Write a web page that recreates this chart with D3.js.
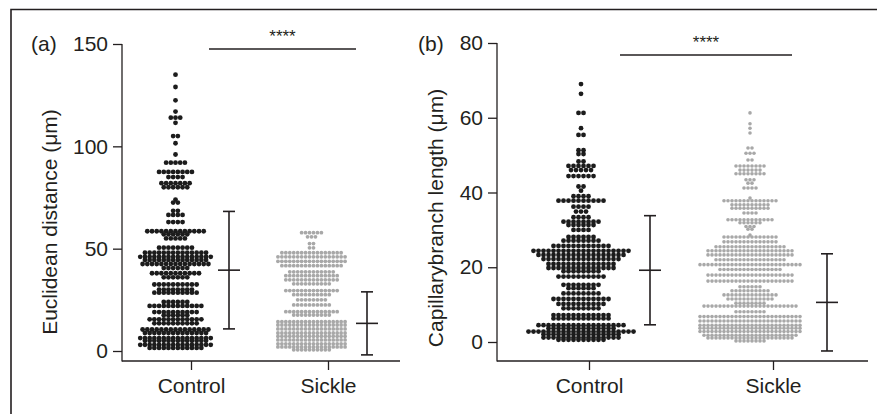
<!DOCTYPE html>
<html>
<head>
<meta charset="utf-8">
<script src="https://cdn.jsdelivr.net/npm/d3@7"></script>
<style>
  body { margin: 0; background: #fff; }
  svg text { font-family: "Liberation Sans", Arial, sans-serif; fill: #231f20; }
</style>
</head>
<body>
<div id="chart"></div>
<script>
// groups
const groups = ["Control", "Sickle"];

// (a) Euclidean distance - each row of the swarm: value and number of dots
const aControlVals   = [135, 129, 122.5, 117, 114, 111.5, 105, 101.5, 96, 92, 87.5, 85, 82, 80, 74, 72.5, 68.5, 66.5, 63, 58.5, 57, 55, 50.5, 48, 46, 44.5, 42.5, 40.5, 38, 36, 32.5, 30, 28.5, 24, 22, 19, 17.5, 15.5, 13.5, 10.5, 8.8, 6.3, 5, 3, 1.5];
const aControlCounts = [1, 1, 1, 1, 3, 1, 2, 1, 1, 5, 8, 4, 7, 6, 1, 2, 2, 4, 4, 13, 6, 5, 8, 14, 16, 14, 15, 6, 11, 6, 10, 8, 10, 6, 12, 10, 6, 12, 10, 15, 14, 16, 14, 16, 12];
const aSickleVals    = [57.8, 55.8, 52.5, 50.4, 48, 46, 43.8, 41.7, 38.7, 36.8, 34.8, 32.8, 29.5, 27.5, 25, 22.5, 19.2, 17.6, 14.3, 12.7, 10.8, 8.8, 7.2, 5.4, 3.5, 2, 0.6];
const aSickleCounts  = [6, 3, 2, 2, 16, 18, 18, 16, 12, 14, 14, 10, 14, 10, 8, 10, 14, 10, 18, 18, 18, 18, 18, 18, 18, 18, 10];
const aMean = [39.5, 13.5];
const aSD   = [28.7, 15.4];

// (b) Capillary branch length
const bControlVals   = [69, 66.4, 61.3, 57.2, 55.4, 51.3, 50.3, 48.3, 47.1, 46, 44.4, 41.6, 40.5, 39, 37.8, 36.2, 34.9, 33.4, 32.2, 31.3, 30, 28.1, 27.1, 25.7, 24.4, 23.3, 22.2, 20.9, 19.8, 18.9, 17.5, 15.3, 14.4, 13, 11.5, 10.2, 9, 7.2, 6.3, 4.5, 3.7, 2.8, 2.1, 1.2, 0.6];
const bControlCounts = [1, 1, 2, 1, 2, 2, 2, 2, 6, 5, 6, 2, 1, 4, 10, 4, 3, 4, 8, 6, 4, 6, 8, 12, 20, 18, 16, 14, 14, 8, 10, 8, 6, 8, 12, 10, 8, 12, 12, 18, 14, 22, 16, 16, 10];
const bSickleVals    = [61.3, 58.4, 57.2, 55.9, 51.9, 50.5, 48.7, 47.1, 46, 45, 43.4, 42.5, 41.2, 38.5, 37.8, 36.7, 35.8, 34.5, 32.7, 31.9, 30.9, 30.2, 28.6, 28.1, 26.8, 25.5, 24.4, 23.3, 22, 20.7, 19.4, 17.9, 16.3, 14.8, 13.7, 12.6, 11.5, 10.4, 9.6, 8.1, 6.8, 5.6, 4.5, 3.7, 2.8, 1.8, 1.1, 0.3];
const bSickleCounts  = [1, 1, 1, 1, 2, 3, 2, 8, 6, 8, 3, 2, 4, 1, 14, 10, 10, 4, 12, 6, 3, 2, 1, 14, 14, 18, 22, 22, 18, 26, 16, 22, 22, 6, 10, 14, 12, 8, 24, 8, 26, 26, 26, 26, 26, 24, 22, 8];
const bMean = [19.2, 10.6];
const bSD   = [14.6, 13.0];

const W = 877, H = 414;
const svg = d3.select("#chart").append("svg")
  .attr("width", W).attr("height", H);

// outer frame (top and left edges)
svg.append("path")
  .attr("d", `M11,${H} L11,9.5 L${W},9.5`)
  .attr("fill", "none").attr("stroke", "#231f20").attr("stroke-width", 1.6);

const ink = "#231f20";

function drawPanel(p) {
  const g = svg.append("g");
  const y = d3.scaleLinear().domain(p.domain).range(p.yRange);
  const x = d3.scalePoint().domain(groups).range(p.tickX);

  // y axis
  const yAxis = g.append("g")
    .attr("transform", `translate(${p.axisX},0)`)
    .call(d3.axisLeft(y).tickValues(p.ticks).tickSize(9).tickPadding(5).tickSizeOuter(0));
  yAxis.select(".domain").remove();
  yAxis.selectAll("line").attr("stroke", ink).attr("stroke-width", 1.3);
  yAxis.selectAll("text").attr("font-size", 21).attr("fill", ink);
  g.append("line")
    .attr("x1", p.axisX).attr("x2", p.axisX)
    .attr("y1", y(p.domain[1])).attr("y2", p.axisY + 0.6)
    .attr("stroke", ink).attr("stroke-width", 1.3);

  // x axis
  const xAxis = g.append("g")
    .attr("transform", `translate(0,${p.axisY})`)
    .call(d3.axisBottom(x).tickSize(9).tickPadding(8).tickSizeOuter(0));
  xAxis.select(".domain").remove();
  xAxis.selectAll("line").attr("stroke", ink).attr("stroke-width", 1.3);
  xAxis.selectAll("text").attr("font-size", 21).attr("fill", ink);
  g.append("line")
    .attr("x1", p.axisX).attr("x2", p.xEnd)
    .attr("y1", p.axisY).attr("y2", p.axisY)
    .attr("stroke", ink).attr("stroke-width", 1.3);

  // swarms
  p.swarms.forEach((s, gi) => {
    const pts = [];
    s.vals.forEach((v, i) => {
      const n = s.counts[i];
      for (let k = 0; k < n; k++) {
        pts.push({ v: v, off: (k - (n - 1) / 2) * s.step });
      }
    });
    g.append("g").selectAll("circle")
      .data(pts)
      .join("circle")
      .attr("cx", d => p.swarmX[gi] + d.off)
      .attr("cy", d => y(d.v))
      .attr("r", s.r)
      .attr("fill", s.color);
  });

  // mean +/- SD bars
  groups.forEach((grp, gi) => {
    const bx = p.barX[gi];
    const m = p.mean[gi], sd = p.sd[gi];
    const eg = g.append("g").attr("stroke", ink).attr("stroke-width", 1.6);
    eg.append("line").attr("x1", bx).attr("x2", bx).attr("y1", y(m + sd)).attr("y2", y(m - sd));
    eg.append("line").attr("x1", bx - 6).attr("x2", bx + 6).attr("y1", y(m + sd)).attr("y2", y(m + sd));
    eg.append("line").attr("x1", bx - 6).attr("x2", bx + 6).attr("y1", y(m - sd)).attr("y2", y(m - sd));
    eg.append("line").attr("x1", bx - 11).attr("x2", bx + 11).attr("y1", y(m)).attr("y2", y(m));
  });

  // significance
  g.append("line")
    .attr("x1", p.sig[0]).attr("x2", p.sig[1])
    .attr("y1", p.sigY).attr("y2", p.sigY)
    .attr("stroke", ink).attr("stroke-width", 1.3);
  g.append("text")
    .attr("x", (p.sig[0] + p.sig[1]) / 2).attr("y", p.sigY - 7)
    .attr("text-anchor", "middle").attr("font-size", 17)
    .text("****");

  // panel letter
  g.append("text")
    .attr("x", p.letterX).attr("y", 51)
    .attr("font-size", 21).text(p.letter);

  // y label
  g.append("text")
    .attr("transform", `translate(${p.labelX},${p.labelY}) rotate(-90)`)
    .attr("text-anchor", "middle").attr("font-size", 21)
    .text(p.yLabel);
}

drawPanel({
  letter: "(a)", letterX: 31,
  yLabel: "Euclidean distance (μm)", labelX: 57, labelY: 222,
  domain: [0, 150], ticks: [0, 50, 100, 150], yRange: [351, 44],
  axisX: 122, axisY: 361, xEnd: 400, tickX: [191, 328],
  swarmX: [175.5, 311.5], barX: [229, 367],
  swarms: [
    { vals: aControlVals, counts: aControlCounts, color: "#1c1c1c", r: 2.4, step: 4.7 },
    { vals: aSickleVals, counts: aSickleCounts, color: "#a8a8a8", r: 1.9, step: 3.95 }
  ],
  mean: aMean, sd: aSD,
  sig: [209, 356], sigY: 49
});

drawPanel({
  letter: "(b)", letterX: 418,
  yLabel: "Capillarybranch length (μm)", labelX: 443, labelY: 218,
  domain: [0, 80], ticks: [0, 20, 40, 60, 80], yRange: [342, 43],
  axisX: 497, axisY: 361, xEnd: 868, tickX: [589, 773],
  swarmX: [581, 750], barX: [650, 827],
  swarms: [
    { vals: bControlVals, counts: bControlCounts, color: "#1c1c1c", r: 2.4, step: 5.0 },
    { vals: bSickleVals, counts: bSickleCounts, color: "#a8a8a8", r: 1.8, step: 4.0 }
  ],
  mean: bMean, sd: bSD,
  sig: [620, 792], sigY: 55
});
</script>
</body>
</html>
